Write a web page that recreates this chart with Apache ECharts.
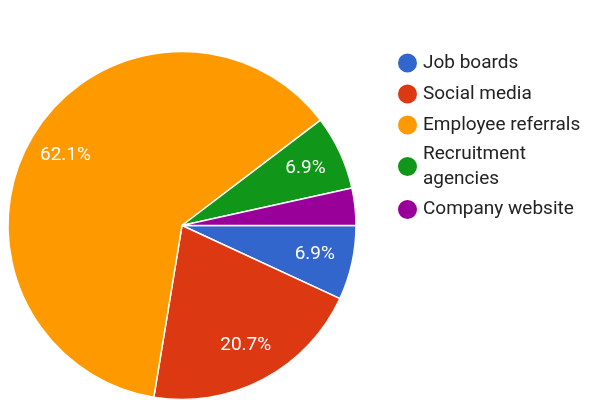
<!DOCTYPE html>
<html>
<head>
<meta charset="utf-8">
<script src="https://cdn.jsdelivr.net/npm/echarts@6/dist/echarts.min.js"></script>
<style>
  html, body { margin: 0; padding: 0; background: #ffffff; }
  #chart { width: 589px; height: 400px; }
</style>
</head>
<body>
<div id="chart"></div>
<script>
// Hiring sources (number of hires per channel)
const categories = ['Job boards', 'Social media', 'Employee referrals', 'Recruitment agencies', 'Company website'];
const hires = [2, 6, 18, 2, 1];
const colors = ['#3366cc', '#dc3912', '#ff9900', '#109618', '#990099'];

const pieData = categories.map((name, i) => ({ name, value: hires[i] }));

const FONT = 'Roboto, "Noto Sans", Arial, sans-serif';
const center = [182, 225.5];
const radius = 174;

const chart = echarts.init(document.getElementById('chart'), null, { renderer: 'canvas' });

chart.setOption({
  backgroundColor: '#ffffff',
  color: colors,
  animation: false,
  legend: [
    {
      orient: 'vertical',
      left: 396,
      top: 51.5,
      padding: 0,
      icon: 'circle',
      itemWidth: 21,
      itemHeight: 21,
      itemGap: 8,
      itemTextGap: 7,
      selectedMode: false,
      textStyle: { fontFamily: FONT, fontSize: 19, color: '#222222', lineHeight: 22 },
      data: [
        categories[0],
        categories[1],
        categories[2],
        {
          name: categories[3],
          // first line sits level with the marker, second line hangs below
          textStyle: { lineHeight: 25, padding: [0, 0, -25, 0] }
        }
      ],
      formatter: name => name === categories[3] ? 'Recruitment\nagencies' : name
    },
    {
      orient: 'vertical',
      left: 396,
      top: 198,
      padding: 0,
      icon: 'circle',
      itemWidth: 21,
      itemHeight: 21,
      itemTextGap: 7,
      selectedMode: false,
      textStyle: { fontFamily: FONT, fontSize: 19, color: '#222222', lineHeight: 22 },
      data: [categories[4]]
    }
  ],
  series: [
    {
      name: 'Hiring source',
      type: 'pie',
      center: center,
      radius: [0, radius],
      startAngle: 0,
      clockwise: true,
      avoidLabelOverlap: false,
      label: { show: false },
      labelLine: { show: false },
      itemStyle: { borderColor: '#ffffff', borderWidth: 1.5 },
      emphasis: { disabled: true },
      data: pieData
    },
    {
      // label ring: places the percentages about three quarters of the way out
      name: 'Hiring source share',
      type: 'pie',
      center: center,
      radius: [92, radius],
      startAngle: 0,
      clockwise: true,
      silent: true,
      avoidLabelOverlap: false,
      percentPrecision: 1,
      minShowLabelAngle: 15,
      itemStyle: { color: 'rgba(0,0,0,0)', borderWidth: 0 },
      label: {
        show: true,
        position: 'inside',
        formatter: '{d}%',
        fontFamily: FONT,
        fontSize: 19,
        color: '#ffffff'
      },
      labelLine: { show: false },
      emphasis: { disabled: true },
      data: pieData
    }
  ]
});
</script>
</body>
</html>
